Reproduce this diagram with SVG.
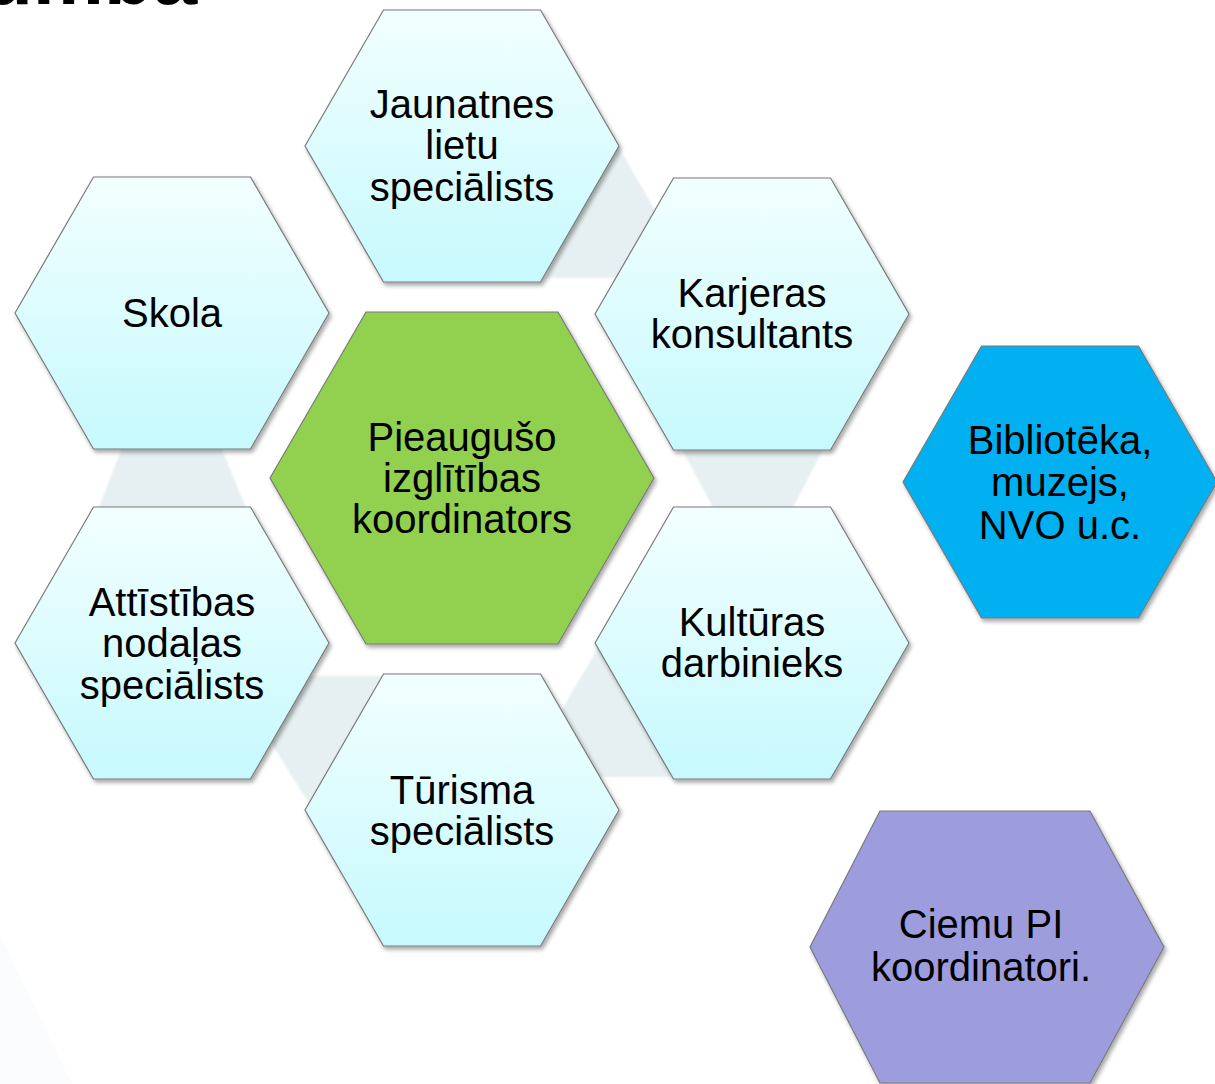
<svg xmlns="http://www.w3.org/2000/svg" width="1215" height="1084" viewBox="0 0 1215 1084">
<defs>
<linearGradient id="cyan" x1="0" y1="0" x2="0" y2="1">
<stop offset="0" stop-color="#f2ffff"/>
<stop offset="1" stop-color="#c6f9fd"/>
</linearGradient>
<filter id="sh" x="-10%" y="-10%" width="125%" height="125%">
<feDropShadow dx="2" dy="3" stdDeviation="2" flood-color="#000" flood-opacity="0.35"/>
</filter>
<filter id="soft" x="-10%" y="-10%" width="120%" height="120%">
<feGaussianBlur stdDeviation="0.8"/>
</filter>
</defs>
<style>
.hx{stroke:#7a7a7a;stroke-width:1.2;filter:url(#sh)}
.outer{fill:url(#cyan)}
.gap{fill:#e6eff1;filter:url(#soft)}
text{font-family:"Liberation Sans",Arial,sans-serif;font-size:40px;fill:#000;text-anchor:middle}
.title{font-weight:bold;font-size:80px;text-anchor:start}
</style>
<rect width="1215" height="1084" fill="#ffffff"/>
<polygon points="0,935 72,1084 0,1084" fill="#fbfcfe"/>
<text class="title" x="-16" y="4">umba</text>

<g id="connectors">
<polygon class="gap" points="610,146 618,146 660,219 625,278 545,278 580,200"/>
<polygon class="gap" points="677,440 828,440 789,515 717,515"/>
<polygon class="gap" points="601,643 558,716 590,777 680,777 640,700"/>
<polygon class="gap" points="300,676 395,676 330,800 313,810 257,720"/>
<polygon class="gap" points="125,440 218,440 249,515 96,515"/>
</g>

<g id="skola">
<polygon class="hx outer" points="15,313 93.5,177 250.5,177 329,313 250.5,449 93.5,449"/>
<text x="172" y="327">Skola</text>
</g>
<g id="jaunatnes">
<polygon class="hx outer" points="305,146 383.5,10 540.5,10 619,146 540.5,282 383.5,282"/>
<text x="462" y="118">Jaunatnes</text>
<text x="462" y="159">lietu</text>
<text x="462" y="201">speciālists</text>
</g>
<g id="karjeras">
<polygon class="hx outer" points="595,314 673.5,178 830.5,178 909,314 830.5,450 673.5,450"/>
<text x="752" y="307">Karjeras</text>
<text x="752" y="348">konsultants</text>
</g>
<g id="attistibas">
<polygon class="hx outer" points="15,643 93.5,507 250.5,507 329,643 250.5,779 93.5,779"/>
<text x="172" y="616">Attīstības</text>
<text x="172" y="657">nodaļas</text>
<text x="172" y="699">speciālists</text>
</g>
<g id="kulturas">
<polygon class="hx outer" points="595,643 673.5,507 830.5,507 909,643 830.5,779 673.5,779"/>
<text x="752" y="636">Kultūras</text>
<text x="752" y="677">darbinieks</text>
</g>
<g id="turisma">
<polygon class="hx outer" points="305,810 383.5,674 540.5,674 619,810 540.5,946 383.5,946"/>
<text x="462" y="804">Tūrisma</text>
<text x="462" y="845">speciālists</text>
</g>
<g id="centrs">
<polygon class="hx" fill="#92d050" stroke="#5f7f3c" points="270,478 366,312 558,312 654,478 558,644 366,644"/>
<text x="462" y="451">Pieaugušo</text>
<text x="462" y="492">izglītības</text>
<text x="462" y="533">koordinators</text>
</g>
<g id="biblioteka">
<polygon class="hx" fill="#00b0f0" points="903,482 981.5,346 1138.5,346 1217,482 1138.5,618 981.5,618"/>
<text x="1060" y="454">Bibliotēka,</text>
<text x="1060" y="496">muzejs,</text>
<text x="1060" y="539">NVO u.c.</text>
</g>
<g id="ciemu">
<polygon class="hx" fill="#9d9cdc" points="810,947 880,811 1090,811 1164,947 1090,1083 880,1083"/>
<rect x="858" y="856" width="2" height="7" fill="#9d9cdc"/>
<rect x="858" y="1030" width="2" height="7" fill="#9d9cdc"/>
<text x="981" y="938">Ciemu PI</text>
<text x="981" y="981">koordinatori.</text>
</g>
</svg>
